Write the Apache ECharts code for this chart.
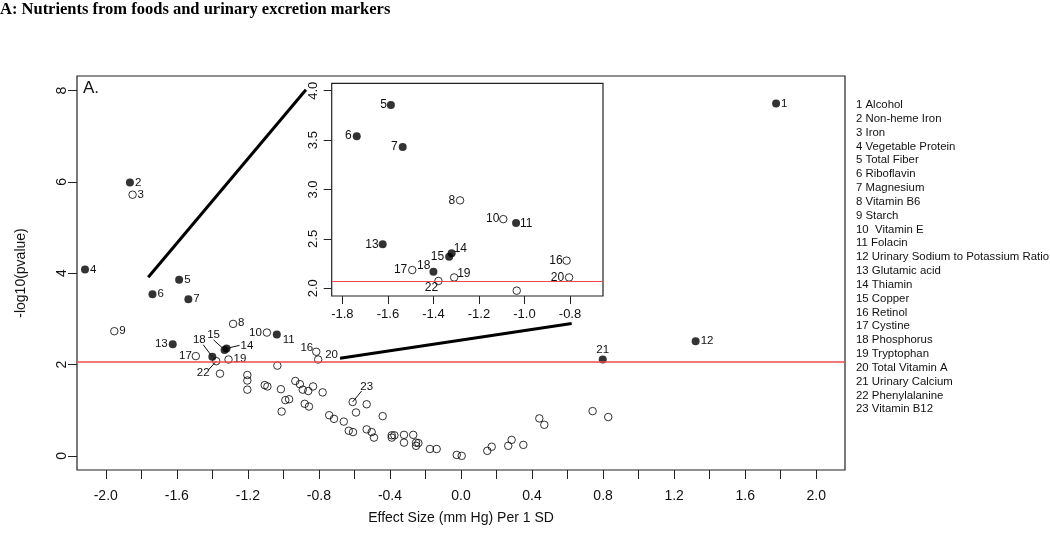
<!DOCTYPE html>
<html>
<head>
<meta charset="utf-8">
<script src="https://cdn.jsdelivr.net/npm/echarts@6/dist/echarts.min.js"></script>
<style>html,body{margin:0;padding:0;background:#fff;}#chart{width:1050px;height:533px;}</style>
</head>
<body>
<div id="chart"></div>
<script>
// ---------- data ----------
const chartTitle = 'A: Nutrients from foods and urinary excretion markers';
const nutrientNames = ['Alcohol','Non-heme Iron','Iron','Vegetable Protein','Total Fiber','Riboflavin','Magnesium','Vitamin B6','Starch',' Vitamin E','Folacin','Urinary Sodium to Potassium Ratio','Glutamic acid','Thiamin','Copper','Retinol','Cystine','Phosphorus','Tryptophan','Total Vitamin A','Urinary Calcium','Phenylalanine','Vitamin B12'];
const pointIds = [1,2,3,4,5,6,7,8,9,10,11,12,13,14,15,16,17,18,19,20,21,22,23];
const pointX = [1.774,-1.864,-1.849,-2.117,-1.587,-1.737,-1.535,-1.283,-1.952,-1.093,-1.037,1.321,-1.623,-1.320,-1.331,-0.815,-1.493,-1.400,-1.309,-0.804,0.798,-1.378,-0.610];
const pointY = [7.72,5.99,5.72,4.08,3.855,3.54,3.43,2.89,2.73,2.70,2.66,2.51,2.445,2.354,2.32,2.28,2.185,2.168,2.11,2.11,2.11,2.074,1.18];
const pointSignificant = [1,1,0,1,1,1,1,0,0,0,1,1,1,1,1,0,0,1,0,0,1,0,0];
const otherX = [-1.034,-1.357,-1.203,-1.203,-1.203,-1.105,-1.090,-1.014,-0.933,-0.907,-0.891,-0.860,-0.833,-0.779,-1.010,-0.989,-0.968,-0.880,-0.856,-0.742,-0.715,-0.660,-0.632,-0.608,-0.591,-0.531,-0.441,-0.531,-0.503,-0.490,-0.390,-0.375,-0.390,-0.321,-0.321,-0.269,-0.253,-0.253,-0.240,-0.175,-0.137,-0.024,0.004,0.148,0.173,0.266,0.285,0.351,0.441,0.469,0.741,0.829];
const otherY = [1.976,1.80,1.77,1.65,1.45,1.55,1.52,1.46,1.64,1.57,1.45,1.42,1.52,1.39,0.97,1.22,1.24,1.14,1.08,0.89,0.81,0.75,0.55,0.52,0.95,1.13,0.87,0.58,0.52,0.40,0.45,0.45,0.40,0.46,0.29,0.46,0.29,0.22,0.28,0.15,0.15,0.02,0.00,0.11,0.20,0.22,0.35,0.24,0.82,0.68,0.98,0.85];
const pThreshold = 2.074;
const mainXTicks = [-2.0,-1.8,-1.6,-1.4,-1.2,-1.0,-0.8,-0.6,-0.4,-0.2,0.0,0.2,0.4,0.6,0.8,1.0,1.2,1.4,1.6,1.8,2.0];
const mainXLabels = [-2.0,-1.6,-1.2,-0.8,-0.4,0.0,0.4,0.8,1.2,1.6,2.0];
const mainYTicks = [0,2,4,6,8];
const insetXTicks = [-1.8,-1.6,-1.4,-1.2,-1.0,-0.8];
const insetYTicks = [2.0,2.5,3.0,3.5,4.0];
// zoom connector segments (data coordinates of the main panel)
const zoomConnectorA = [[-1.761,3.91],[-0.873,8.02]];
const zoomConnectorB = [[-0.681,2.14],[0.623,2.90]];

// ---------- label layout (pixel offsets) ----------
const mainLabelLayout = {
  1:{dx:5,dy:0,align:'left'},2:{dx:5,dy:0,align:'left'},3:{dx:5,dy:0,align:'left'},4:{dx:5,dy:0,align:'left'},
  5:{dx:5,dy:0,align:'left'},6:{dx:5,dy:0,align:'left'},7:{dx:5,dy:0,align:'left'},8:{dx:5,dy:-1,align:'left'},
  9:{dx:5,dy:0,align:'left'},10:{dx:-5,dy:0,align:'right'},11:{dx:6,dy:5,align:'left'},12:{dx:5,dy:0,align:'left'},
  13:{dx:-5,dy:0,align:'right'},14:{dx:14,dy:-3,align:'left',lx:13,ly:-3},15:{dx:-11,dy:-15,align:'center',lx:-11,ly:-10},
  16:{dx:-3,dy:-4,align:'right'},17:{dx:-4,dy:0,align:'right'},18:{dx:-13,dy:-17,align:'center',lx:-9,ly:-12},
  19:{dx:5,dy:-1,align:'left'},20:{dx:7,dy:-5,align:'left'},21:{dx:0,dy:-10,align:'center'},
  22:{dx:-13,dy:12,align:'center',lx:-8,ly:9},23:{dx:14,dy:-15,align:'center',lx:9,ly:-11}
};
const insetLabelLayout = {
  5:{dx:-4,dy:0,align:'right'},6:{dx:-5,dy:0,align:'right'},7:{dx:-5,dy:0,align:'right'},8:{dx:-5,dy:0,align:'right'},
  10:{dx:-4,dy:0,align:'right'},11:{dx:4,dy:1,align:'left'},13:{dx:-4,dy:0,align:'right'},14:{dx:2,dy:-5,align:'left'},
  15:{dx:-5,dy:0,align:'right'},16:{dx:-4,dy:0,align:'right'},17:{dx:-5,dy:0,align:'right'},18:{dx:-3,dy:-6,align:'right'},
  19:{dx:3,dy:-4,align:'left'},20:{dx:-5,dy:0,align:'right'},22:{dx:-7,dy:7,align:'center'}
};

// ---------- build ----------
const FONT = '"Liberation Sans", Arial, Helvetica, sans-serif';
const filled = [], open = [], labeled = [];
pointIds.forEach((id, i) => {
  (pointSignificant[i] ? filled : open).push([pointX[i], pointY[i]]);
  labeled.push([pointX[i], pointY[i], id]);
});
otherX.forEach((x, i) => open.push([x, otherY[i]]));

function labelRenderer(layout, fontSize) {
  return function (params, api) {
    const id = api.value(2);
    const L = layout[id];
    if (!L) return null;
    const p = api.coord([api.value(0), api.value(1)]);
    const children = [];
    if (L.lx !== undefined) {
      children.push({type:'line', shape:{x1:p[0], y1:p[1], x2:p[0]+L.lx, y2:p[1]+L.ly}, style:{stroke:'#111', lineWidth:1}});
    }
    children.push({type:'text', x:p[0]+L.dx, y:p[1]+L.dy,
      style:{text:String(id), align:L.align, verticalAlign:'middle', fontSize:fontSize, fontFamily:FONT, fill:'#111'}});
    return {type:'group', children};
  };
}

const axisTickStyle = {lineStyle:{color:'#222', width:1}};
const noLine = {show:false, onZero:false};
const chart = echarts.init(document.getElementById('chart'), null, {renderer:'canvas'});

const graphics = [
  {type:'text', left:0, top:1, style:{text:chartTitle, fontFamily:'"Liberation Serif", "Times New Roman", serif', fontWeight:'bold', fontSize:16.5, fill:'#000'}},
  {type:'text', x:83, y:80, style:{text:'A.', fontFamily:FONT, fontSize:17, fill:'#111', align:'left', verticalAlign:'top'}},
  {type:'text', x:461, y:518, style:{text:'Effect Size (mm Hg) Per 1 SD', fontFamily:FONT, fontSize:14, fill:'#111', align:'center', verticalAlign:'middle'}},
  {type:'text', x:21, y:273, rotation:Math.PI/2, style:{text:'-log10(pvalue)', fontFamily:FONT, fontSize:14, fill:'#111', align:'center', verticalAlign:'middle'}}
];
nutrientNames.forEach((n, i) => {
  graphics.push({type:'text', x:856, y:105 + i*13.83, style:{text:pointIds[i] + ' ' + n, fontFamily:FONT, fontSize:11.4, fill:'#111', align:'left', verticalAlign:'middle'}});
});

const option = {
  backgroundColor:'#fff',
  animation:false,
  grid:[
    {left:77, top:76, width:768, height:394, show:true, borderColor:'#222', borderWidth:1.2, backgroundColor:'transparent'},
    {left:331.7, top:83.3, width:271.3, height:212.7, show:true, borderColor:'#222', borderWidth:1.2, backgroundColor:'#fff'}
  ],
  xAxis:[
    {type:'value', gridIndex:0, position:'bottom', min:-2.162, max:2.162, axisLine:noLine, splitLine:{show:false},
     axisTick:{show:true, length:9, customValues:mainXTicks, ...axisTickStyle},
     axisLabel:{customValues:mainXLabels, formatter:v=>Number(v).toFixed(1), margin:19, fontSize:14, fontFamily:FONT, color:'#111'}},
    {type:'value', gridIndex:1, position:'bottom', min:-1.847, max:-0.655, axisLine:noLine, splitLine:{show:false},
     axisTick:{show:true, length:8, customValues:insetXTicks, ...axisTickStyle},
     axisLabel:{customValues:insetXTicks, formatter:v=>Number(v).toFixed(1), margin:12, fontSize:13, fontFamily:FONT, color:'#111'}}
  ],
  yAxis:[
    {type:'value', gridIndex:0, position:'left', min:-0.31, max:8.32, axisLine:noLine, splitLine:{show:false},
     axisTick:{show:true, length:9, customValues:mainYTicks, ...axisTickStyle},
     axisLabel:{customValues:mainYTicks, rotate:90, margin:8, fontSize:14, fontFamily:FONT, color:'#111'}},
    {type:'value', gridIndex:1, position:'left', min:1.922, max:4.075, axisLine:noLine, splitLine:{show:false},
     axisTick:{show:true, length:8, customValues:insetYTicks, ...axisTickStyle},
     axisLabel:{customValues:insetYTicks, rotate:90, formatter:v=>Number(v).toFixed(1), margin:12, fontSize:13, fontFamily:FONT, color:'#111'}}
  ],
  graphic:graphics,
  series:[
    {type:'line', xAxisIndex:0, yAxisIndex:0, data:[], symbol:'none',
     markLine:{silent:true, symbol:'none', label:{show:false}, lineStyle:{color:'#f04a4a', width:1.6, type:'solid'}, data:[{yAxis:pThreshold}]}},
    {type:'line', xAxisIndex:0, yAxisIndex:0, data:zoomConnectorA, symbol:'none', lineStyle:{color:'#000', width:3}, z:3},
    {type:'line', xAxisIndex:0, yAxisIndex:0, data:zoomConnectorB, symbol:'none', lineStyle:{color:'#000', width:3}, z:3},
    {type:'scatter', xAxisIndex:0, yAxisIndex:0, data:open, symbol:'circle', symbolSize:7.5, itemStyle:{color:'rgba(0,0,0,0)', borderColor:'#000', borderWidth:1}},
    {type:'scatter', xAxisIndex:0, yAxisIndex:0, data:filled, symbol:'circle', symbolSize:8, itemStyle:{color:'#000'}},
    {type:'custom', xAxisIndex:0, yAxisIndex:0, data:labeled, encode:{x:0, y:1}, renderItem:labelRenderer(mainLabelLayout, 11.5), z:4},
    {type:'line', xAxisIndex:1, yAxisIndex:1, data:[], symbol:'none',
     markLine:{silent:true, symbol:'none', label:{show:false}, lineStyle:{color:'#f04a4a', width:1.1, type:'solid'}, data:[{yAxis:pThreshold}]}},
    {type:'scatter', xAxisIndex:1, yAxisIndex:1, data:open, clip:true, symbol:'circle', symbolSize:7.5, itemStyle:{color:'rgba(0,0,0,0)', borderColor:'#000', borderWidth:1}},
    {type:'scatter', xAxisIndex:1, yAxisIndex:1, data:filled, clip:true, symbol:'circle', symbolSize:8, itemStyle:{color:'#000'}},
    {type:'custom', xAxisIndex:1, yAxisIndex:1, data:labeled, clip:true, encode:{x:0, y:1}, renderItem:labelRenderer(insetLabelLayout, 12), z:4}
  ]
};
chart.setOption(option);
</script>
</body>
</html>
